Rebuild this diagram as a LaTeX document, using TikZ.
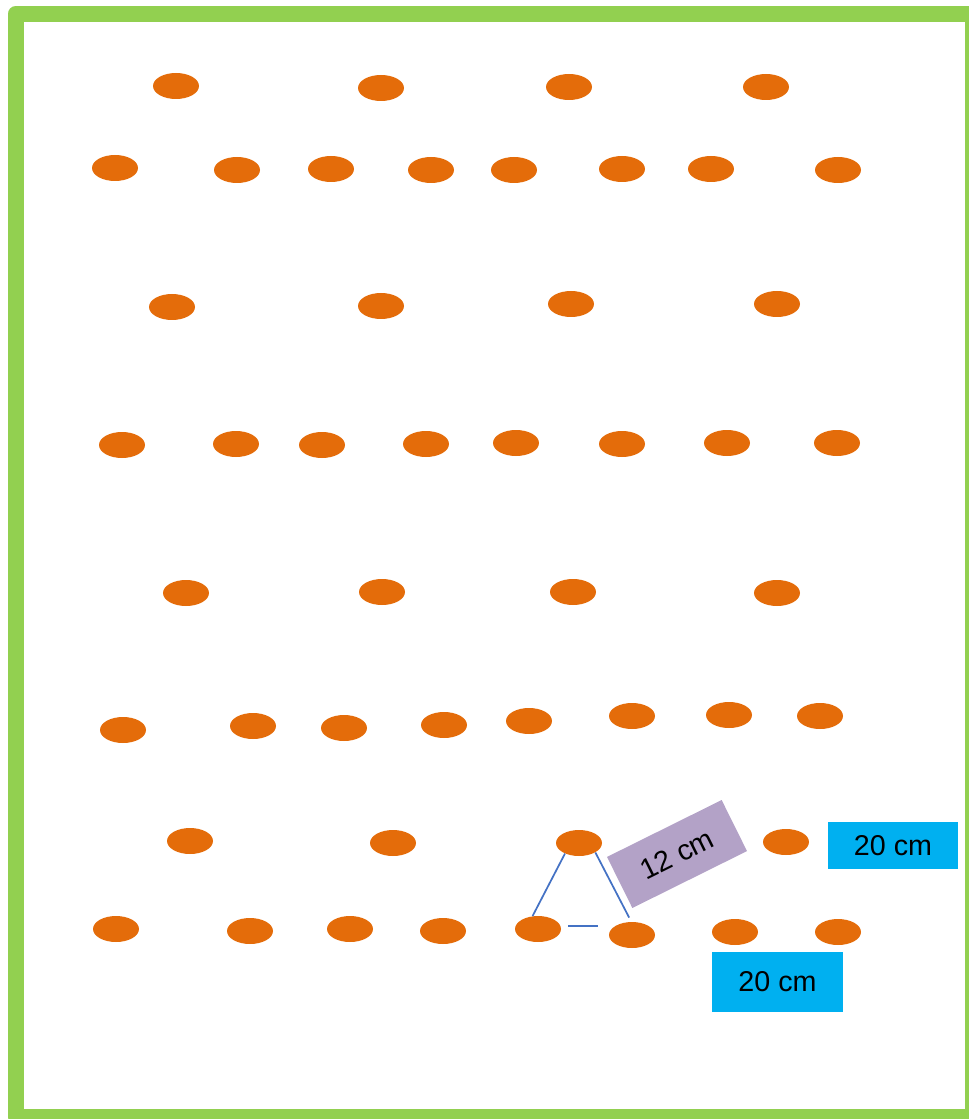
\documentclass[tikz,border=0pt]{standalone}
\usepackage{fontspec}
\setmainfont{Liberation Sans}
\usetikzlibrary{shapes.geometric}
\definecolor{plantorange}{RGB}{228,108,10}
\definecolor{bordergreen}{RGB}{146,208,80}
\definecolor{gapblue}{RGB}{68,114,196}
\definecolor{labelblue}{RGB}{0,176,240}
\definecolor{labelpurple}{RGB}{179,162,199}
\tikzset{
	plant/.style={shape=ellipse, fill=plantorange, minimum width=34.5pt, minimum height=19.5pt, inner sep=0pt},
	gapline/.style={draw=gapblue, line width=1.3pt},
	spacing/.style={shape=rectangle, fill=labelblue, inner sep=0pt, font=\fontsize{21.5}{25}\selectfont},
}

\begin{document}
\begin{tikzpicture}[x=0.75pt, y=-0.75pt]
	\useasboundingbox (0,0) rectangle (969,1119);
	% Field border:
	\draw[draw=bordergreen, line width=12pt, line join=round] (15.5,14) rectangle (973,1117);
	% Plants, row by row:
	\node[plant](r1a) at (176,86){};
	\node[plant](r1b) at (381,88){};
	\node[plant](r1c) at (569,87){};
	\node[plant](r1d) at (766,87){};
	\node[plant](r2a) at (115,168){};
	\node[plant](r2b) at (237,170){};
	\node[plant](r2c) at (331,169){};
	\node[plant](r2d) at (431,170){};
	\node[plant](r2e) at (514,170){};
	\node[plant](r2f) at (622,169){};
	\node[plant](r2g) at (711,169){};
	\node[plant](r2h) at (838,170){};
	\node[plant](r3a) at (172,307){};
	\node[plant](r3b) at (381,306){};
	\node[plant](r3c) at (571,304){};
	\node[plant](r3d) at (777,304){};
	\node[plant](r4a) at (122,445){};
	\node[plant](r4b) at (236,444){};
	\node[plant](r4c) at (322,445){};
	\node[plant](r4d) at (426,444){};
	\node[plant](r4e) at (516,443){};
	\node[plant](r4f) at (622,444){};
	\node[plant](r4g) at (727,443){};
	\node[plant](r4h) at (837,443){};
	\node[plant](r5a) at (186,593){};
	\node[plant](r5b) at (382,592){};
	\node[plant](r5c) at (573,592){};
	\node[plant](r5d) at (777,593){};
	\node[plant](r6a) at (123,730){};
	\node[plant](r6b) at (253,726){};
	\node[plant](r6c) at (344,728){};
	\node[plant](r6d) at (444,725){};
	\node[plant](r6e) at (529,721){};
	\node[plant](r6f) at (632,716){};
	\node[plant](r6g) at (729,715){};
	\node[plant](r6h) at (820,716){};
	\node[plant](r7a) at (190,841){};
	\node[plant](r7b) at (393,843){};
	\node[plant](r7c) at (579,843){};
	\node[plant](r7d) at (786,842){};
	\node[plant](r8a) at (116,929){};
	\node[plant](r8b) at (250,931){};
	\node[plant](r8c) at (350,929){};
	\node[plant](r8d) at (443,931){};
	\node[plant](r8e) at (538,929){};
	\node[plant](r8f) at (632,935){};
	\node[plant](r8g) at (735,932){};
	\node[plant](r8h) at (838,932){};
	% Spacing triangle and labels:
	\coordinate (gapL) at (568,926);
	\coordinate (gapR) at (598,926);
	\draw[gapline] (r8e.113) -- (r7c.217);
	\draw[gapline, shorten >=3.5pt] (r7c.-30) -- (r8f.93);
	\draw[gapline] (gapL) -- (gapR);
	\node[shape=rectangle, fill=labelpurple, rotate=26.4, minimum width=96pt, minimum height=42.75pt, inner sep=0pt, font=\fontsize{21.5}{25}\selectfont](rowgap) at (677,854){12 cm};
	\node[spacing, minimum width=97.5pt, minimum height=35.25pt](plantgap) at (893,845.5){20 cm};
	\node[spacing, minimum width=98.25pt, minimum height=45pt](rowsgap) at (777.5,982){20 cm};
\end{tikzpicture}
\end{document}
